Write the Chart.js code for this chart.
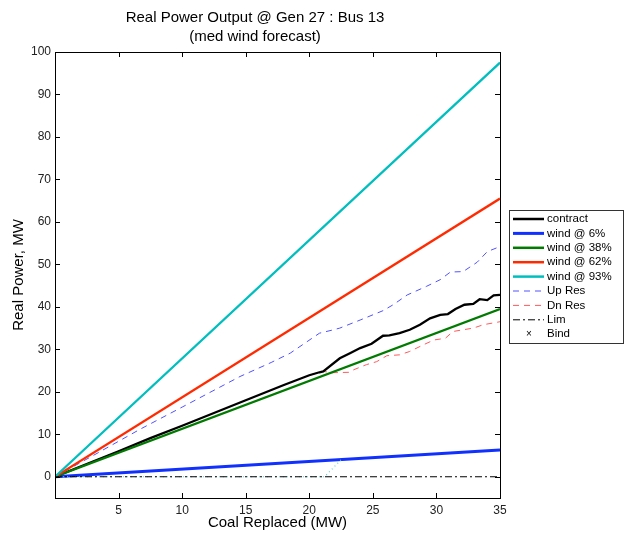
<!doctype html>
<html>
<head>
    <title>Real Power Output</title>
    <script src="https://cdn.jsdelivr.net/npm/chart.js"></script>
    <style>
        html, body { margin: 0; padding: 0; background: #fff; }
        #wrap { width: 625px; height: 533px; }
    </style>
</head>
<body>
<div id="wrap"><canvas id="grafico"></canvas></div>
<script>
    // eixo x: carvao substituido (MW)
    var windX = [0, 35];
    var wind6 = [0, 6.3];
    var wind38 = [0, 39.5];
    var wind62 = [0, 65.5];
    var wind93 = [0, 97.5];

    var contractX = [0, 5, 7.5, 10, 15, 18, 20, 20.8, 21.1, 22.4, 23.2, 24.0, 24.9, 25.8, 26.3, 27.1, 27.9, 28.7, 29.5, 30.3, 30.9, 31.5, 32.2, 32.9, 33.4, 34.0, 34.5, 35];
    var contractY = [0, 6.0, 9.1, 12.0, 18.0, 21.6, 23.9, 24.6, 24.8, 27.9, 29.1, 30.3, 31.3, 33.2, 33.3, 33.8, 34.6, 35.8, 37.3, 38.1, 38.3, 39.5, 40.5, 40.7, 41.8, 41.6, 42.7, 42.8];

    var upResX = [0, 3, 6.7, 10, 14.55, 17, 18.5, 20.8, 21.9, 22.4, 24.0, 25.8, 26.6, 27.7, 29.2, 30.3, 31.1, 32.1, 33.2, 34.0, 35];
    var upResY = [0, 5.0, 11.2, 16.4, 23.6, 26.9, 29.1, 33.8, 34.6, 35.0, 36.9, 39.1, 40.5, 42.8, 44.8, 46.4, 48.2, 48.3, 50.5, 53.0, 54.2];

    var dnResX = [0, 5, 7.5, 10, 15, 18, 20, 20.8, 21.1, 21.8, 23.2, 23.5, 24.5, 25.3, 26.1, 27.1, 27.9, 29.0, 29.8, 30.7, 31.3, 32.1, 32.9, 33.7, 35];
    var dnResY = [0, 6.0, 9.1, 12.0, 18.0, 21.6, 23.9, 24.6, 24.8, 24.5, 24.6, 25.2, 26.4, 27.1, 28.5, 28.7, 29.5, 31.1, 32.2, 32.6, 34.2, 34.6, 35.0, 35.8, 36.5];

    var limX = [0, 35];
    var limY = [0, 0];
    var limCyanX = [0, 21.2, 22.5];
    var limCyanY = [0, 0, 4.0];

    var xTicks = [5, 10, 15, 20, 25, 30, 35];
    var yTicks = [0, 10, 20, 30, 40, 50, 60, 70, 80, 90, 100];

    var fonte = '"Liberation Sans", Arial, sans-serif';

    function pontos(xs, ys) {
        return xs.map(function (x, i) { return { x: x, y: ys[i] }; });
    }

    function serie(label, xs, ys, cor, largura, tracejado) {
        return {
            label: label,
            data: pontos(xs, ys),
            borderColor: cor,
            backgroundColor: cor,
            borderWidth: largura,
            borderDash: tracejado,
            showLine: true,
            pointRadius: 0,
            fill: false,
            tension: 0
        };
    }

    var datasets = [
        serie('Lim', limX, limY, '#000000', 1, [7, 3, 2, 3]),
        serie('', limCyanX, limCyanY, '#5fd0d0', 1.2, [1, 3]),
        serie('wind @ 93%', windX, wind93, '#00bebe', 2.3, []),
        serie('wind @ 62%', windX, wind62, '#ff2a00', 2.3, []),
        serie('Up Res', upResX, upResY, '#5252ff', 1, [6, 5]),
        serie('wind @ 38%', windX, wind38, '#007a00', 2.3, []),
        serie('contract', contractX, contractY, '#000000', 2.3, []),
        serie('Dn Res', dnResX, dnResY, '#ff5a5a', 1, [6, 5]),
        serie('wind @ 6%', windX, wind6, '#1030ff', 3, []),
        serie('', windX, wind6, '#000033', 1, [4, 3, 1, 3])
    ];

    // ordem da legenda igual a figura
    var legenda = [
        { texto: 'contract', cor: '#000000', largura: 2.5, dash: [] },
        { texto: 'wind @ 6%', cor: '#1030ff', largura: 3, dash: [] },
        { texto: 'wind @ 38%', cor: '#007a00', largura: 2.5, dash: [] },
        { texto: 'wind @ 62%', cor: '#ff2a00', largura: 2.5, dash: [] },
        { texto: 'wind @ 93%', cor: '#00bebe', largura: 2.5, dash: [] },
        { texto: 'Up Res', cor: '#5252ff', largura: 1, dash: [6, 5] },
        { texto: 'Dn Res', cor: '#ff5a5a', largura: 1, dash: [6, 5] },
        { texto: 'Lim', cor: '#000000', largura: 1, dash: [7, 3, 2, 3] },
        { texto: 'Bind', cor: '#000000', largura: 1, dash: null }
    ];

    var caixaPlugin = {
        id: 'caixa',
        afterDatasetsDraw: function (chart) {
            var ctx = chart.ctx;
            var a = chart.chartArea;
            var sx = chart.scales.x;
            var sy = chart.scales.y;
            ctx.save();
            ctx.strokeStyle = '#000';
            ctx.lineWidth = 1;
            ctx.setLineDash([]);
            ctx.strokeRect(Math.round(a.left) + 0.5, Math.round(a.top) + 0.5, Math.round(a.width), Math.round(a.height));
            ctx.beginPath();
            xTicks.forEach(function (v) {
                var px = Math.round(sx.getPixelForValue(v)) + 0.5;
                ctx.moveTo(px, a.bottom); ctx.lineTo(px, a.bottom - 5);
                ctx.moveTo(px, a.top); ctx.lineTo(px, a.top + 5);
            });
            yTicks.forEach(function (v) {
                var py = Math.round(sy.getPixelForValue(v)) + 0.5;
                ctx.moveTo(a.left, py); ctx.lineTo(a.left + 5, py);
                ctx.moveTo(a.right, py); ctx.lineTo(a.right - 5, py);
            });
            ctx.stroke();

            // legenda
            var lx = 509, ly = 210, lw = 114, lh = 133;
            ctx.fillStyle = '#fff';
            ctx.fillRect(lx, ly, lw, lh);
            ctx.strokeStyle = '#333';
            ctx.strokeRect(lx + 0.5, ly + 0.5, lw, lh);
            ctx.textBaseline = 'middle';
            legenda.forEach(function (item, i) {
                var y = ly + 9 + i * 14.4;
                if (item.dash) {
                    ctx.beginPath();
                    ctx.strokeStyle = item.cor;
                    ctx.lineWidth = item.largura;
                    ctx.setLineDash(item.dash);
                    ctx.moveTo(lx + 4, y);
                    ctx.lineTo(lx + 35, y);
                    ctx.stroke();
                } else {
                    ctx.fillStyle = '#000';
                    ctx.font = '10px ' + fonte;
                    ctx.textAlign = 'center';
                    ctx.fillText('×', lx + 20, y);
                }
                ctx.setLineDash([]);
                ctx.fillStyle = '#000';
                ctx.textAlign = 'left';
                ctx.font = '11.5px ' + fonte;
                ctx.fillText(item.texto, lx + 38, y);
            });
            ctx.restore();
        }
    };

    var grafico = new Chart(document.getElementById('grafico').getContext('2d'), {
        type: 'scatter',
        data: { datasets: datasets },
        plugins: [caixaPlugin],
        options: {
            responsive: true,
            maintainAspectRatio: false,
            animation: false,
            layout: { padding: { left: 10, right: 125, top: 0, bottom: 2 } },
            plugins: {
                legend: { display: false },
                tooltip: { enabled: false },
                title: {
                    display: true,
                    text: ['Real Power Output @ Gen 27 : Bus 13', '(med wind forecast)'],
                    color: '#000',
                    font: { family: fonte, size: 15, weight: 'normal', lineHeight: 1.3 },
                    padding: { top: 8, bottom: 5 }
                }
            },
            scales: {
                x: {
                    type: 'linear',
                    min: 0,
                    max: 35,
                    afterBuildTicks: function (s) { s.ticks = xTicks.map(function (v) { return { value: v }; }); },
                    afterFit: function (s) { s.height = 33; },
                    grid: { display: false, drawTicks: false },
                    border: { display: false },
                    ticks: { color: '#222', font: { family: fonte, size: 12 }, padding: 5, maxRotation: 0 },
                    title: { display: true, text: 'Coal Replaced (MW)', color: '#000', font: { family: fonte, size: 15, lineHeight: 1.1 }, padding: 0 }
                },
                y: {
                    type: 'linear',
                    min: -5,
                    max: 100,
                    afterBuildTicks: function (s) { s.ticks = yTicks.map(function (v) { return { value: v }; }); },
                    afterFit: function (s) { s.width = 45; },
                    grid: { display: false, drawTicks: false },
                    border: { display: false },
                    ticks: { color: '#222', font: { family: fonte, size: 12 }, padding: 4 },
                    title: { display: true, text: 'Real Power, MW', color: '#000', font: { family: fonte, size: 15 }, padding: 0 }
                }
            }
        }
    });
</script>
</body>
</html>
